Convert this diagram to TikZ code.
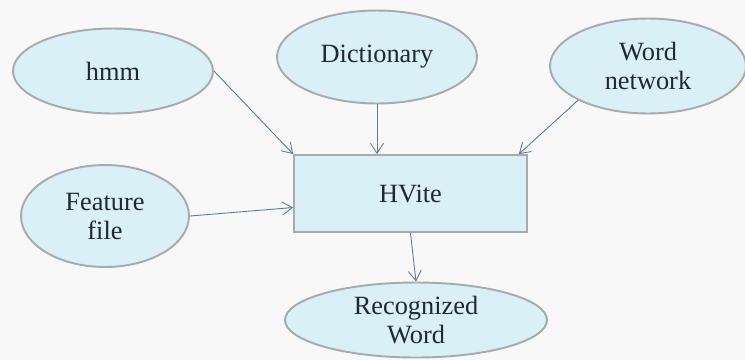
\documentclass[tikz,border=0pt]{standalone}
\usepackage{fontspec}
\setmainfont{Liberation Serif}
\usepackage{tikz}
\usepackage{xcolor}
\usetikzlibrary{arrows.meta,calc,positioning,shapes.geometric}
\definecolor{Bubble}{HTML}{DAF0F7}
\definecolor{Rim}{HTML}{A8ABAD}
\definecolor{Flow}{HTML}{5B7A98}
\definecolor{Ink}{HTML}{1E2A30}
\definecolor{Paper}{HTML}{F8F8F8}

\tikzset{
    bubble/.style={ellipse, draw=Rim, fill=Bubble, line width=1.1pt, inner sep=0pt,
        text=Ink, align=center, font=\fontsize{15}{16.5}\selectfont},
    procbox/.style={rectangle, draw=Rim, fill=Bubble, line width=1.1pt, inner sep=0pt,
        text=Ink, font=\fontsize{15}{16.5}\selectfont},
    flow/.style={->, Flow, line width=0.5pt}
}

\begin{document}
\begin{tikzpicture}[>={Straight Barb[length=2mm,width=2.6mm]}, x=0.02cm, y=-0.02cm]
    % Canvas
    \fill[Paper] (0,0) rectangle (745,360);
    \useasboundingbox (0,0) rectangle (745,360);

    % Inputs
    \node[bubble, minimum width=4cm, minimum height=1.7cm] (hmm) at (113,71) {hmm};
    \node[bubble, minimum width=4cm, minimum height=1.86cm] (dict) at (377,57) {Dictionary};
    \node[bubble, minimum width=3.92cm, minimum height=1.9cm] (wnet) at (648,66) {Word\\network};
    \node[bubble, minimum width=3.36cm, minimum height=2.04cm] (feat) at (105,216) {Feature\\file};

    % Decoder
    \node[procbox, minimum width=4.66cm, minimum height=1.54cm] (hvite) at (410.5,193.5) {HVite};

    % Output
    \node[bubble, minimum width=5.24cm, minimum height=1.5cm] (recog) at (416,320) {Recognized\\Word};

    % Connectors
    \coordinate (wnetEnd) at ($(hvite.north east)+(-9,0)$);
    \coordinate (featEnd) at ($(hvite.west)+(0,14)$);
    \draw[flow] (hmm.east) -- (hvite.north west);
    \draw[flow] (dict.south) -- (dict.south |- hvite.north);
    \draw[flow] (wnet.south west) -- (wnetEnd);
    \draw[flow] (feat.east) -- (featEnd);
    \draw[flow] (hvite.south) -- (recog.north);

\end{tikzpicture}
\end{document}
